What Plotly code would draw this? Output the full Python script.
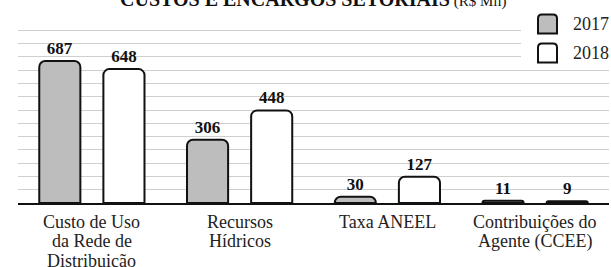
import plotly.graph_objects as go

# ---- data ----
categories = ["Custo de Uso<br>da Rede de<br>Distribuição", "Recursos<br>Hídricos",
              "Taxa ANEEL", "Contribuições do<br>Agente (CCEE)"]
series_names = ["2017", "2018"]
values_2017 = [687, 306, 30, 11]
values_2018 = [648, 448, 127, 9]
title_main = "CUSTOS E ENCARGOS SETORIAIS"
title_unit = " (R$ Mil)"

W, H = 611, 267
ML, MR, MT, MB = 18, 2, 17, 64
PW, PH = W - ML - MR, H - MT - MB
FONT = "Liberation Serif, Times New Roman, serif"

def px_x(x):
    return (x - ML) / PW

def px_y(y):
    return (H - MB - y) / PH

fills = ["#bdbdbd", "#ffffff"]

fig = go.Figure()
for name, vals, fill in zip(series_names, [values_2017, values_2018], fills):
    fig.add_trace(go.Bar(
        x=categories, y=vals, name=name,
        marker=dict(color=fill, line=dict(color="#111111", width=2), cornerradius=6),
        text=[str(v) for v in vals], textposition="outside", constraintext="none",
        textfont=dict(family=FONT, size=17, color="#111111", weight="bold"),
        cliponaxis=False, showlegend=False,
    ))

fig.update_layout(
    width=W, height=H,
    margin=dict(l=ML, r=MR, t=MT, b=MB, pad=0),
    paper_bgcolor="white", plot_bgcolor="white",
    barmode="group", bargap=0.132, bargroupgap=0.359,
    font=dict(family=FONT, color="#222222"),
    xaxis=dict(showline=True, linecolor="#111111", linewidth=2, ticks="",
               showticklabels=False, fixedrange=True),
    yaxis=dict(range=[0, 900], tick0=0, dtick=900 / 14, showticklabels=False,
               showgrid=True, gridcolor="#cfcfcf", gridwidth=1, zeroline=False,
               fixedrange=True),
)

shapes = []
annotations = []

# category labels, one annotation per line for tight line spacing
LINE_GAP = 19.3
for cat in categories:
    for k, line in enumerate(cat.split("<br>")):
        annotations.append(dict(x=cat, y=0, xref="x", yref="y", yanchor="middle",
                                yshift=-(19 + LINE_GAP * k), showarrow=False, text=line,
                                font=dict(family=FONT, size=18, color="#222222")))

# legend background covering gridlines
shapes.append(dict(type="rect", xref="paper", yref="paper", layer="above",
                   x0=px_x(521), x1=px_x(611), y0=px_y(64), y1=px_y(9),
                   fillcolor="white", line=dict(width=0)))

def rounded_box(x0, y0, x1, y1, r):
    X0, X1 = px_x(x0), px_x(x1)
    Y0, Y1 = px_y(y1), px_y(y0)
    rx, ry = r / PW, r / PH
    return (f"M{X0},{Y0} L{X0},{Y1-ry} Q{X0},{Y1} {X0+rx},{Y1} "
            f"L{X1-rx},{Y1} Q{X1},{Y1} {X1},{Y1-ry} L{X1},{Y0} "
            f"Q{X1},{Y0} {X1-rx},{Y0} L{X0+rx},{Y0} Q{X0},{Y0} {X0},{Y0} Z")

leg_rows = [24, 53]
for name, fill, yc in zip(series_names, fills, leg_rows):
    shapes.append(dict(type="path", xref="paper", yref="paper", layer="above",
                       path=rounded_box(538, yc - 9.5, 557, yc + 9.5, 4),
                       fillcolor=fill, line=dict(color="#111111", width=2)))
    annotations.append(dict(xref="paper", yref="paper", x=px_x(571), y=px_y(yc),
                            xanchor="left", yanchor="middle", showarrow=False,
                            text=name, font=dict(family=FONT, size=18, color="#222222")))

annotations.append(dict(xref="paper", yref="paper", x=px_x(313), y=1, yanchor="bottom",
                        yshift=5, showarrow=False,
                        text=f"<b>{title_main}</b><span style='font-size:15px'>{title_unit}</span>",
                        font=dict(family=FONT, size=20, color="#111111")))

fig.update_layout(shapes=shapes, annotations=annotations)
fig.write_html("out.html", config={"displayModeBar": False},
               post_script="document.body.style.margin='0';document.body.style.overflow='hidden';")
